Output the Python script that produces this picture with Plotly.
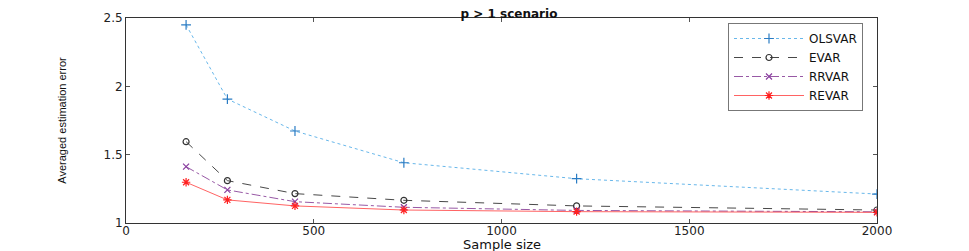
import plotly.graph_objects as go

sample_size = [160, 270, 450, 740, 1200, 2000]
olsvar = [2.45, 1.907, 1.673, 1.441, 1.324, 1.212]
evar = [1.595, 1.310, 1.215, 1.166, 1.125, 1.095]
rrvar = [1.412, 1.242, 1.156, 1.115, 1.092, 1.082]
revar = [1.298, 1.169, 1.125, 1.095, 1.083, 1.078]

series = [
    ("OLSVAR", olsvar, "rgba(77,170,230,0.85)", "#2A7CC4", "dot", "cross-thin", 7),
    ("EVAR", evar, "rgba(40,40,40,0.85)", "#333333", "dash", "circle-open", 6),
    ("RRVAR", rrvar, "rgba(126,47,142,0.8)", "#8A3FA0", "dashdot", "x-thin", 6),
    ("REVAR", revar, "rgba(255,60,60,0.8)", "#FF2020", "solid", "asterisk", 7),
]

fig = go.Figure()
for name, vals, lc, mc, dash, sym, ms in series:
    fig.add_trace(go.Scatter(
        x=sample_size, y=vals, name=name, mode="lines+markers",
        line=dict(color=lc, width=1, dash=dash),
        marker=dict(symbol=sym, size=ms, color=mc, line=dict(color=mc, width=1.2)),
    ))

axis_common = dict(
    showline=True, linecolor="#333333", linewidth=1, mirror="ticks",
    ticks="inside", ticklen=4, tickcolor="#555555", showgrid=False, zeroline=False,
    automargin=False,
    tickfont=dict(family="DejaVu Sans", size=12, color="#222222"),
)

W, H = 969, 251
PLOT_H = 205
fig.update_layout(
    width=W, height=H,
    margin=dict(l=118, r=100, t=10, b=36),
    plot_bgcolor="white", paper_bgcolor="white",
    title=dict(text="<b>p > 1 scenario</b>", x=0.517, xanchor="center",
               y=1 - 1.5 / H, yanchor="top", automargin=False, pad=dict(t=0, b=0),
               font=dict(family="DejaVu Sans", size=12, color="#111111")),
    xaxis=dict(range=[0, 2000], tickvals=[0, 500, 1000, 1500, 2000],
               ticklabelstandoff=-3, **axis_common),
    yaxis=dict(range=[1, 2.5], tickvals=[1, 1.5, 2, 2.5],
               ticktext=["1", "1.5", "2", "2.5"],
               title=dict(text="Averaged estimation error", standoff=34,
                          font=dict(family="Liberation Sans Narrow, Liberation Sans", size=11, color="#111111")),
               **axis_common),
    legend=dict(x=(863 - 126) / (877 - 126), xanchor="right", y=1 - 5 / PLOT_H, yanchor="top",
                bgcolor="white", bordercolor="#777777", borderwidth=1,
                font=dict(family="DejaVu Sans", size=12, color="#111111"),
                tracegroupgap=0, itemwidth=70),
    showlegend=True,
    annotations=[dict(text="Sample size", xref="paper", yref="paper",
                      x=0.5, y=-(21.5 / PLOT_H), xanchor="center", yanchor="middle",
                      showarrow=False,
                      font=dict(family="DejaVu Sans", size=13, color="#111111"))],
)

fig.write_html("out.html")
